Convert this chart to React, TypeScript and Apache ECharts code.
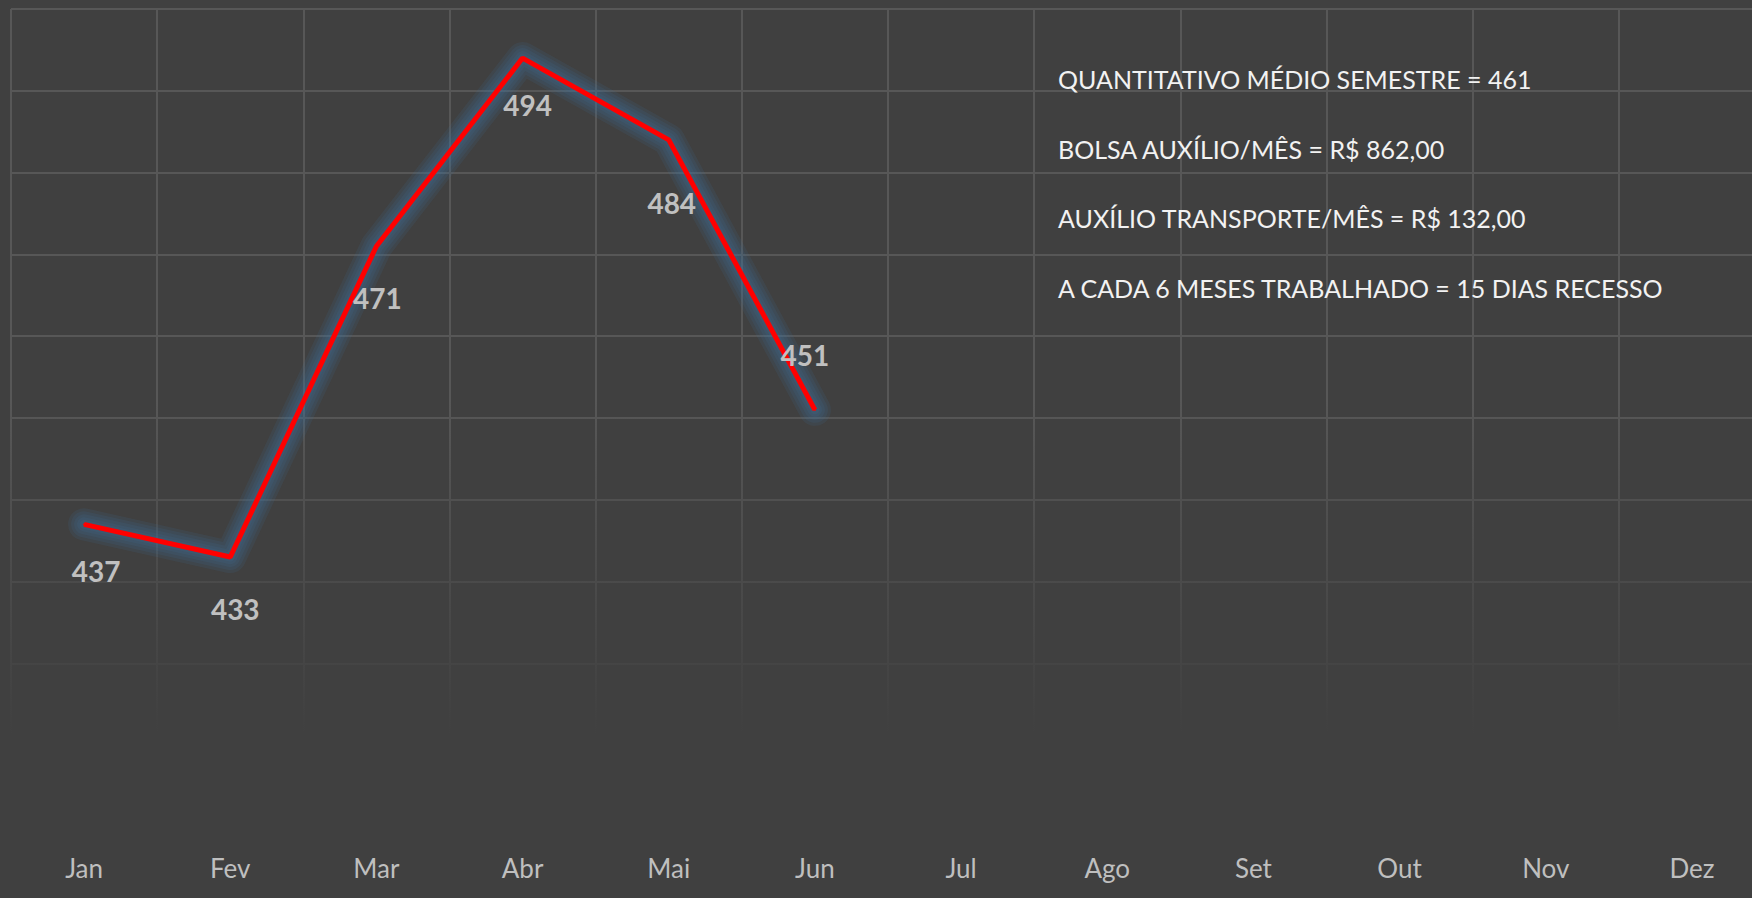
import React, { useEffect, useRef } from "react";
import * as echarts from "echarts";

const months = ["Jan", "Fev", "Mar", "Abr", "Mai", "Jun", "Jul", "Ago", "Set", "Out", "Nov", "Dez"];
const quantitativo = [437, 433, 471, 494, 484, 451];
const infoLines = [
  "QUANTITATIVO MÉDIO SEMESTRE = 461",
  "BOLSA AUXÍLIO/MÊS = R$ 862,00",
  "AUXÍLIO TRANSPORTE/MÊS = R$ 132,00",
  "A CADA 6 MESES TRABALHADO = 15 DIAS RECESSO",
];
const yMin = 400;
const yMax = 500;
const yStep = 10;

// label placement (offset of label centre from the point)
const labelOffsets: [number, number][] = [
  [12, 47],
  [5, 52],
  [1, 52],
  [5, 47],
  [3, 63],
  [-10, -55],
];

// soft glow built from stacked translucent strokes
const glowWidths = [32, 26, 20, 14, 9];

const BG = "#404040";
const FONT = "Lato, 'Open Sans', sans-serif";

export default function App() {
  const ref = useRef<HTMLDivElement>(null);
  useEffect(() => {
    document.body.style.margin = "0";
    const chart = echarts.init(ref.current!, null, { renderer: "svg" });
    chart.setOption({
      animation: false,
      backgroundColor: BG,
      grid: { left: 11, top: 9, width: 1754, height: 818, containLabel: false },
      xAxis: {
        type: "category",
        data: months,
        boundaryGap: true,
        axisLine: { show: false },
        axisTick: { show: false },
        axisLabel: { color: "#bfbfbf", fontSize: 26, fontFamily: FONT, margin: 28 },
        splitLine: { show: true, interval: 0, lineStyle: { color: "#575757", width: 2 } },
      },
      yAxis: {
        type: "value",
        min: yMin,
        max: yMax,
        interval: yStep,
        axisLine: { show: false },
        axisTick: { show: false },
        axisLabel: { show: false },
        splitLine: { show: true, lineStyle: { color: "#575757", width: 2 } },
      },
      graphic: [
        {
          type: "rect",
          z: 1,
          silent: true,
          shape: { x: 0, y: 400, width: 1800, height: 445 },
          style: {
            fill: new echarts.graphic.LinearGradient(0, 0, 0, 1, [
              { offset: 0, color: "rgba(64,64,64,0)" },
              { offset: 0.75, color: "rgba(64,64,64,1)" },
              { offset: 1, color: "rgba(64,64,64,1)" },
            ]),
          },
        },
        ...infoLines.map((t, i) => ({
          type: "text",
          z: 5,
          x: 1058,
          y: 79 + i * 69.7,
          style: {
            text: t,
            fill: "#f2f2f2",
            fontSize: 25,
            fontFamily: FONT,
            verticalAlign: "middle",
            align: "left",
          },
        })),
      ],
      series: [
        ...glowWidths.map((w) => ({
          type: "line",
          z: 2,
          silent: true,
          data: quantitativo,
          symbol: "none",
          lineStyle: {
            color: "rgba(65,115,160,0.13)",
            width: w,
            cap: "round",
            join: "round",
          },
        })),
        {
          type: "line",
          z: 3,
          data: quantitativo.map((v, i) => ({
            value: v,
            label: { offset: labelOffsets[i] },
          })),
          symbol: "circle",
          symbolSize: 2,
          itemStyle: { color: "#ff0000" },
          lineStyle: {
            color: "#ff0000",
            width: 5,
          },
          label: {
            show: true,
            position: "inside",
            color: "#c0c0c0",
            fontSize: 28,
            fontWeight: "bold",
            fontFamily: FONT,
          },
        },
      ],
    });
    return () => chart.dispose();
  }, []);
  return (
    <div
      ref={ref}
      style={{ position: "fixed", left: 0, top: 0, width: 1780, height: 898 }}
    />
  );
}
